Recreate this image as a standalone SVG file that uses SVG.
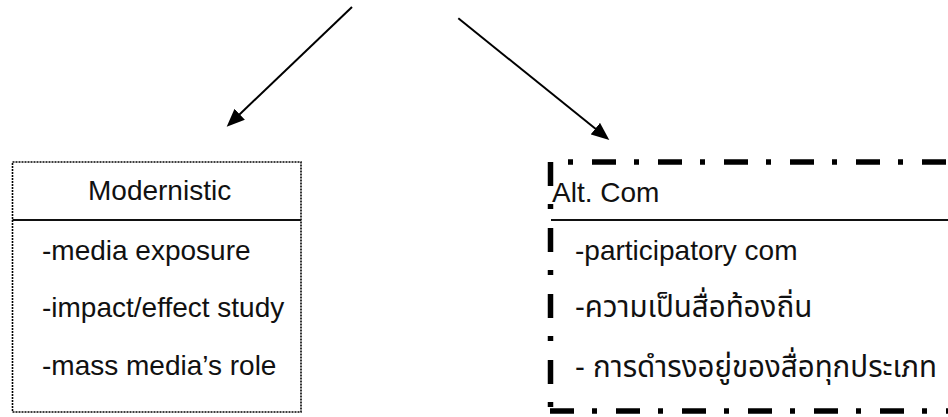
<svg xmlns="http://www.w3.org/2000/svg" width="948" height="417" viewBox="0 0 948 417">
  <style>
    .t { font-family: "Liberation Sans", Arial, "Noto Sans Thai", "Noto Sans", sans-serif; font-size: 28px; fill: #111; }
    .th { font-size: 29.5px; }
    .conn { stroke: #000; stroke-width: 2; fill: none; marker-end: url(#ah); }
    .dotted { fill: none; stroke: #000; stroke-width: 1.6; stroke-dasharray: 2 1; }
    .rule { stroke: #111; stroke-width: 2; }
    .dd { stroke: #000; stroke-width: 5.5; fill: none; stroke-dasharray: 24 18 5 19; }
  </style>
  <defs>
    <marker id="ah" viewBox="0 0 18 15" markerWidth="18" markerHeight="15" refX="9" refY="7.5" orient="auto" markerUnits="userSpaceOnUse">
      <path d="M0,0 L18,7.5 L0,15 z" fill="#000"/>
    </marker>
  </defs>
  <rect width="948" height="417" fill="#fff"/>
  <g id="connectors">
    <line class="conn" x1="352" y1="7" x2="233.2" y2="120.5"/>
    <line class="conn" x1="458.3" y1="18.3" x2="602.3" y2="134.3"/>
  </g>
  <g id="modernistic">
    <rect class="dotted" x="12.5" y="162" width="288.5" height="250"/>
    <line class="rule" x1="12.5" y1="220" x2="301" y2="220"/>
    <text class="t" x="88" y="200">Modernistic</text>
    <text class="t" x="42" y="260">-media exposure</text>
    <text class="t" x="42" y="317">-impact/effect study</text>
    <text class="t" x="42" y="375">-mass media’s role</text>
  </g>
  <g id="altcom">
    <line class="dd" x1="550" y1="162" x2="948" y2="162" stroke-dashoffset="24"/>
    <line class="dd" x1="550.5" y1="162" x2="550.5" y2="408"/>
    <line class="dd" x1="550" y1="411" x2="948" y2="411"/>
    <line class="rule" x1="551" y1="220" x2="948" y2="220"/>
    <text class="t" x="552" y="202">Alt. Com</text>
    <text class="t" x="575" y="260">-participatory com</text>
    <text class="t th" x="575" y="317">-ความเป็นสื่อท้องถิ่น</text>
    <text class="t th" x="575" y="377">- การดำรงอยู่ของสื่อทุกประเภท</text>
  </g>
</svg>
